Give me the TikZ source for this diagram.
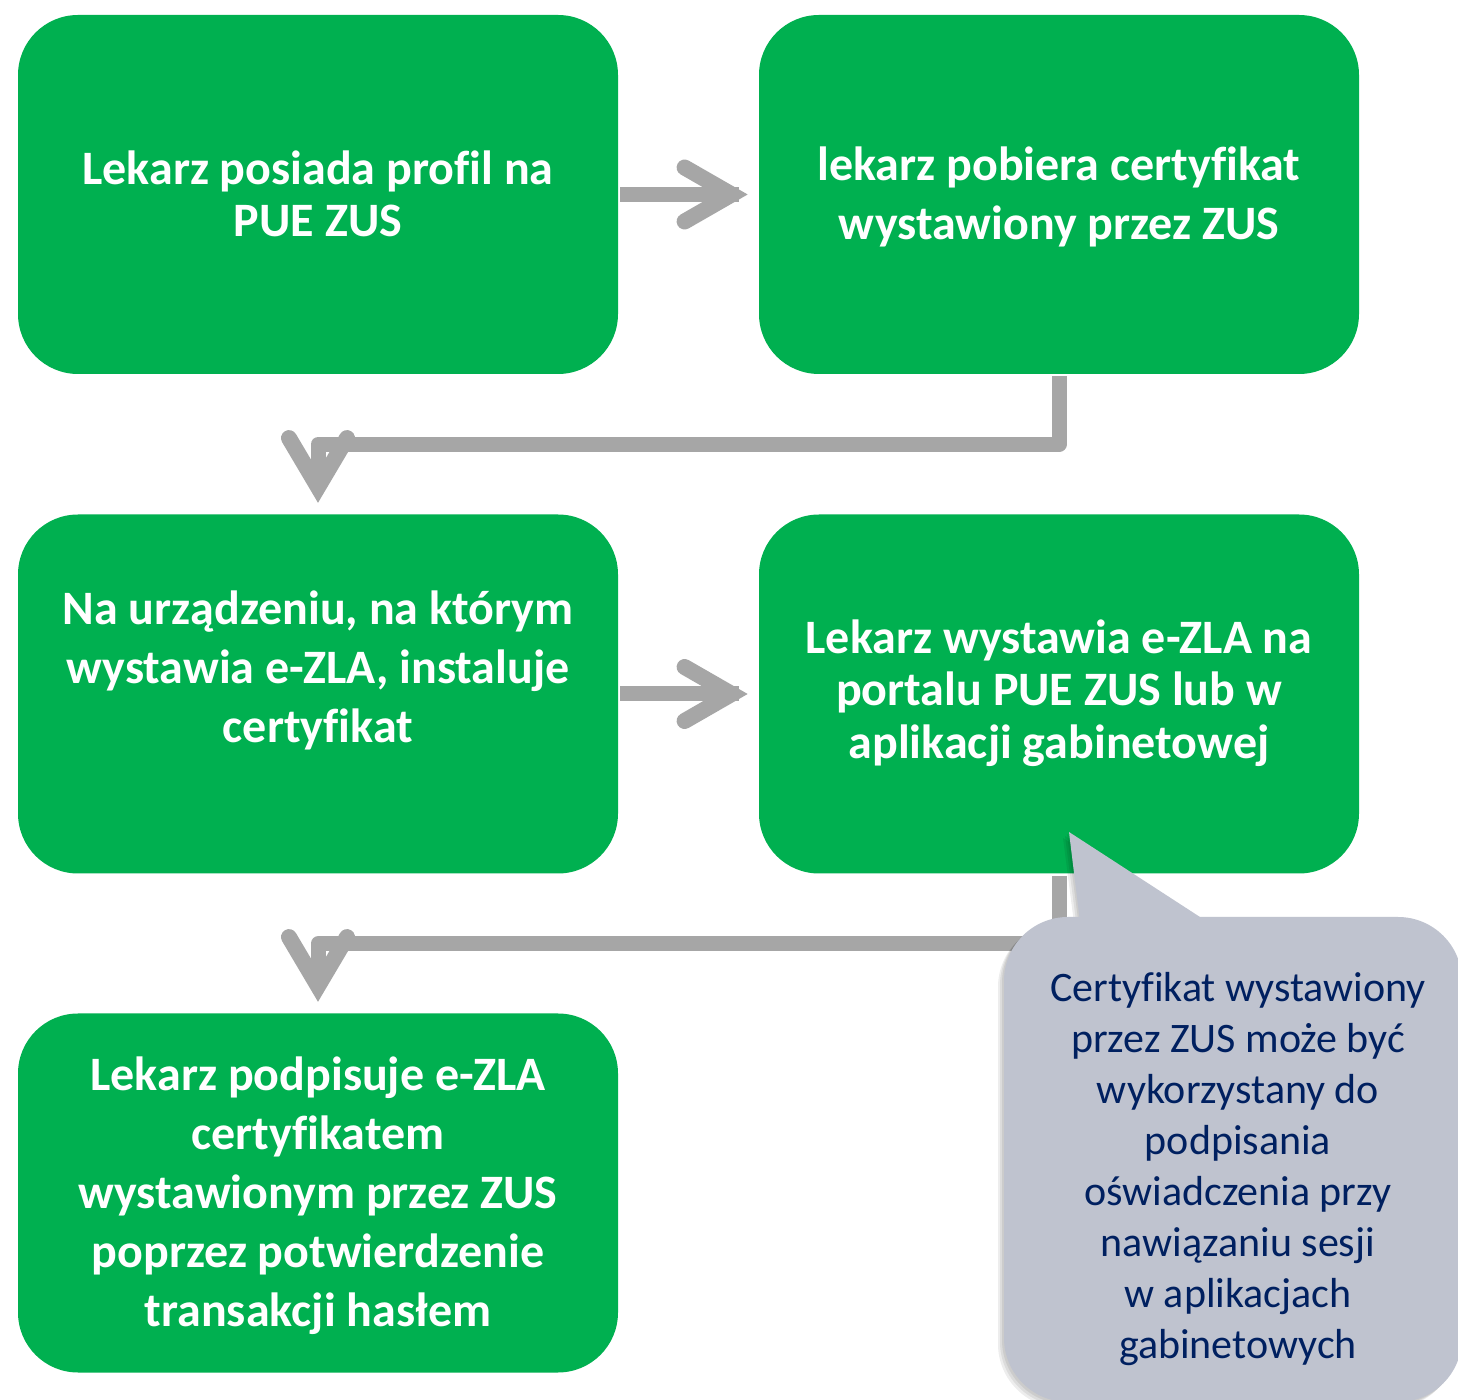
\documentclass[tikz,border=0pt]{standalone}
\usepackage{fontspec}
\setmainfont{Carlito}[Ligatures=NoCommon]
\usetikzlibrary{calc}
\definecolor{zgreen}{HTML}{00B050}
\definecolor{zgrey}{HTML}{A6A6A6}
\definecolor{zcall}{RGB}{191,195,207}
\definecolor{znavy}{HTML}{002060}
\tikzset{
  gbox/.style={fill=zgreen, rounded corners=30pt, minimum width=300pt, minimum height=179.5pt, inner sep=0pt},
  gtext/.style={text=white, align=center, inner sep=0pt},
  conn/.style={draw=zgrey, line width=7.5pt},
  chev/.style={draw=zgrey, line width=8pt, line cap=round, line join=miter},
  callbox/.style={fill=zcall, rounded corners=32pt, minimum width=229pt, minimum height=242.5pt, inner sep=0pt},
  calltext/.style={text=znavy, align=center, inner sep=0pt, font=\fontsize{21}{25.5}\selectfont},
  shade/.style={black, opacity=0.07},
}
\begin{document}
\begin{tikzpicture}[x=0.5pt,y=-0.5pt]
\useasboundingbox (0,0) rectangle (1458,1400);
\clip (0,0) rectangle (1458,1400);
\fill[white] (0,0) rectangle (1458,1400);

% green boxes
\node[gbox] (b1) at (318,194.5) {};
\node[gbox] (b2) at (1059,194.5) {};
\node[gbox] (b3) at (318,694) {};
\node[gbox] (b4) at (1059,694) {};
\node[gbox] (b5) at (318,1193) {};

% texts
\node[gtext, font=\bfseries\fontsize{24}{26}\selectfont] (t1) at (318,194)
  {Lekarz posiada profil na\\PUE ZUS};
\node[gtext, font=\bfseries\fontsize{24}{29.5}\selectfont] (t2) at (1059,197)
  {lekarz pobiera certyfikat\\wystawiony przez ZUS};
\node[gtext, font=\bfseries\fontsize{24}{29.5}\selectfont] (t3) at (318,670)
  {Na urządzeniu, na którym\\wystawia e-ZLA, instaluje\\certyfikat};
\node[gtext, font=\bfseries\fontsize{24}{26.25}\selectfont] (t4) at (1059,693)
  {Lekarz wystawia e-ZLA na\\portalu PUE ZUS lub w\\aplikacji gabinetowej};
\node[gtext, font=\bfseries\fontsize{24}{29.5}\selectfont] (t5) at (318,1196)
  {Lekarz podpisuje e-ZLA\\certyfikatem\\wystawionym przez ZUS\\poprzez potwierdzenie\\transakcji hasłem};

% straight arrows
\draw[conn] ([xshift=1pt]b1.east) -- ($(b2.west)+(-20,0)$);
\draw[chev] ($(b2.west)+(-74,-27)$) -- ($(b2.west)+(-27,0)$) -- ($(b2.west)+(-74,27)$);
\draw[conn] ([xshift=1pt]b3.east) -- ($(b4.west)+(-20,0)$);
\draw[chev] ($(b4.west)+(-74,-27)$) -- ($(b4.west)+(-27,0)$) -- ($(b4.west)+(-74,27)$);

% elbow arrows
\draw[conn, line join=round] ([yshift=-1pt]b2.south) -- ++(0,68) -| ($(b3.north)+(0,-28)$);
\draw[chev] ($(b3.north)+(-29,-76)$) -- ($(b3.north)+(0,-27)$) -- ($(b3.north)+(29,-76)$);
\draw[conn, line join=round] ([yshift=-1pt]b4.south) -- ++(0,68) -| ($(b5.north)+(0,-28)$);
\draw[chev] ($(b5.north)+(-29,-76)$) -- ($(b5.north)+(0,-27)$) -- ($(b5.north)+(29,-76)$);

% callout soft shadow
\foreach \d in {2,4,6} {
  \begin{scope}[shift={(-\d,\d)}]
    \fill[shade, rounded corners=32pt] (1004,917) rectangle (1462,1402);
    \fill[shade] (1081,925) -- (1069,832) -- (1215,925) -- cycle;
  \end{scope}
}
% callout
\node[callbox] (cb) at (1233,1159.5) {};
\coordinate (ctip) at (1069,832);
\fill[zcall] (1081,930) -- (ctip) -- (1220,930) -- cycle;
\node[calltext] (ct) at (1238,1169)
  {Certyfikat wystawiony\\przez ZUS może być\\wykorzystany do\\podpisania\\oświadczenia przy\\nawiązaniu sesji\\w aplikacjach\\gabinetowych};
\end{tikzpicture}
\end{document}
